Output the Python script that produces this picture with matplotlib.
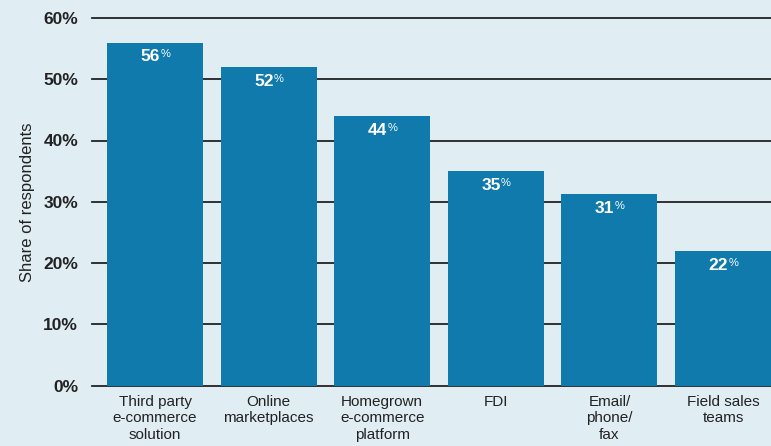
import matplotlib
matplotlib.use("Agg")
import matplotlib.pyplot as plt

plt.rcParams["font.family"] = ["Liberation Sans", "DejaVu Sans"]

# dados do grafico
categorias = ["Third party\ne-commerce\nsolution", "Online\nmarketplaces",
              "Homegrown\ne-commerce\nplatform", "FDI", "Email/\nphone/\nfax",
              "Field sales\nteams"]
valores = [56, 52, 44, 35, 31.3, 22]
rotulos = ["56", "52", "44", "35", "31", "22"]
yticks = [0, 10, 20, 30, 40, 50, 60]

fundo = "#e0edf3"
azul = "#0f7aab"

fig = plt.figure(figsize=(7.71, 4.46), dpi=100, facecolor=fundo)
ax = fig.add_axes([92 / 771, 1 - 385.5 / 446, 1 - 92 / 771, (385.5 - 18) / 446])
ax.set_facecolor(fundo)

x = range(len(categorias))
ax.bar(x, valores, width=0.845, color=azul, zorder=3)

for i, (v, r) in enumerate(zip(valores, rotulos)):
    ax.annotate(r, (i, v), xytext=(3.5, -5), textcoords="offset points",
                ha="right", va="top", color="white", fontsize=12.5,
                fontweight="bold", zorder=4)
    ax.annotate("%", (i, v), xytext=(3.8, -5), textcoords="offset points",
                ha="left", va="top", color="white", fontsize=8, zorder=4)

ax.set_ylim(0, 60)
ax.set_xlim(-0.555, 5.4225)
ax.set_yticks(yticks)
ax.set_yticklabels([f"{t}%" for t in yticks], fontweight="bold", fontsize=12.5,
                   color="#222222")
ax.grid(axis="y", color="#222222", linewidth=1.3, zorder=0)
for g in ax.get_ygridlines():
    g.set_clip_on(False)
ax.tick_params(axis="y", length=0, pad=10)
ax.tick_params(axis="x", length=0, pad=7)
ax.set_xticks(list(x))
ax.set_xticklabels(categorias, fontsize=11, color="#222222", linespacing=1.2)
ax.set_ylabel("Share of respondents", fontsize=12, color="#222222", labelpad=6)
for s in ax.spines.values():
    s.set_visible(False)

fig.savefig("out.png", dpi=100, facecolor=fundo)
